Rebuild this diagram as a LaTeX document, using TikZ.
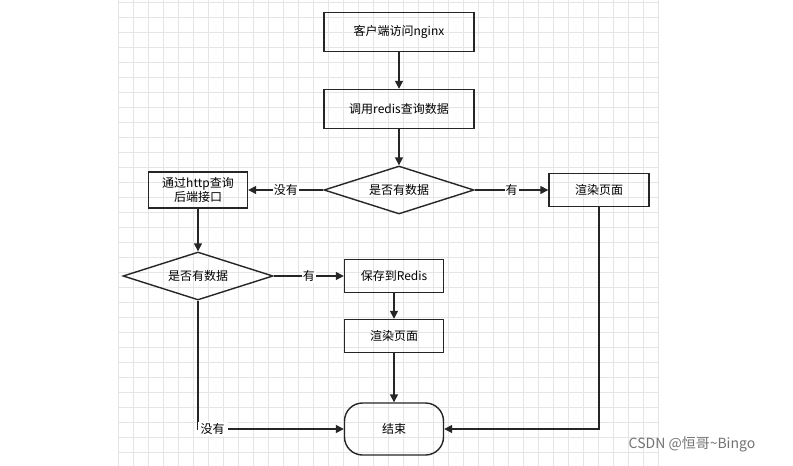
\documentclass[tikz,border=0pt]{standalone}
\usepackage{fontspec}
\setmainfont{Noto Sans CJK SC}
\usetikzlibrary{shapes.geometric,arrows.meta}
\begin{document}
\begin{tikzpicture}[x=1pt,y=-1pt,
  box/.style={draw=black!85,line width=1.4pt,minimum width=150pt,minimum height=39pt,font=\fontsize{12}{14}\selectfont,align=center,inner sep=1pt},
  sbox/.style={box,minimum width=99pt,minimum height=33pt},
  dia/.style={draw=black!85,line width=1.4pt,diamond,aspect=3.1,minimum width=150pt,minimum height=48pt,inner sep=0pt,font=\fontsize{12}{14}\selectfont},
  arr/.style={draw=black!85,line width=1.4pt,-{Triangle[length=8pt,width=8pt]}},
  lab/.style={fill=white,font=\fontsize{12}{14}\selectfont,inner sep=1pt}]
\useasboundingbox (0,0) rectangle (793,466);
\fill[white] (0,0) rectangle (793,466);
\foreach \i in {0,...,36} {\draw[black!10,line width=0.5pt] (118+15*\i,0) -- (118+15*\i,466);}
\foreach \j in {0,...,31} {\draw[black!10,line width=0.5pt] (118,2+15*\j) -- (658,2+15*\j);}
\node[box] (a) at (399,32) {客户端访问nginx};
\node[box] (b) at (399,109) {调用redis查询数据};
\node[dia] (d1) at (399,190) {是否有数据};
\node[sbox,minimum width=100pt] (c) at (599,190) {渲染页面};
\node[sbox,minimum height=36pt] (h) at (198,190) {通过http查询\\后端接口};
\node[dia] (d2) at (198,276) {是否有数据};
\node[sbox] (s) at (394,276) {保存到Redis};
\node[sbox] (r) at (394,336) {渲染页面};
\node[sbox,rounded corners=18pt,minimum height=52pt] (e) at (394,429) {结束};
\draw[arr] (a) -- (b);
\draw[arr] (b) -- (d1);
\draw[arr] (d1) -- node[lab]{没有} (h);
\draw[arr] (d1) -- node[lab]{有} (c);
\draw[arr] (h) -- (d2);
\draw[arr] (d2) -- node[lab]{有} (s);
\draw[arr] (s) -- (r);
\draw[arr] (r) -- (e);
\draw[arr] (c.south) |- (e.east);
\draw[arr] (d2.south) |- node[lab,pos=0.55,inner xsep=3pt]{没有} (e.west);
\node[text=black!55,font=\fontsize{14}{16}\selectfont] (w) at (692,444) {CSDN @恒哥\textasciitilde Bingo};
\end{tikzpicture}
\end{document}
